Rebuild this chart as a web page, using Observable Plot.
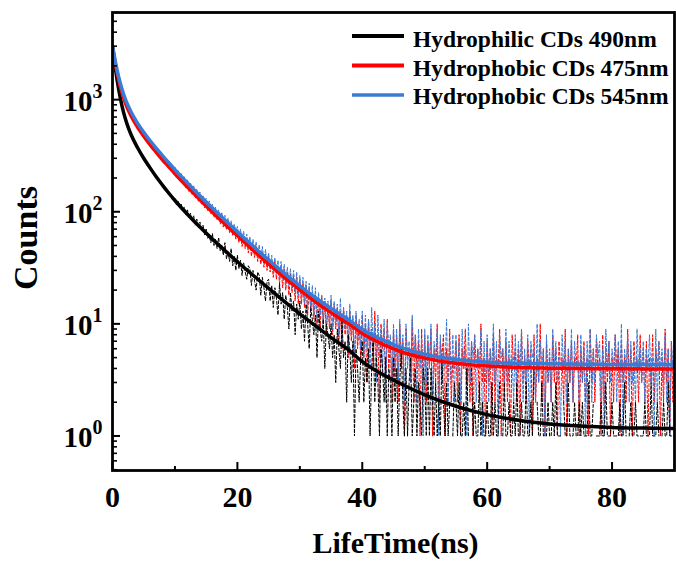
<!DOCTYPE html>
<html>
<head>
<meta charset="utf-8">
<script src="https://cdn.jsdelivr.net/npm/d3@7"></script>
<script src="https://cdn.jsdelivr.net/npm/@observablehq/plot@0.6"></script>
<style>
html, body { margin: 0; padding: 0; background: #fff; }
#chart { position: relative; width: 676px; height: 562px; font-family: "Liberation Serif", "Times New Roman", serif; }
#legend { position: absolute; left: 351px; top: 20px; }
</style>
</head>
<body>
<div id="chart"></div>
<script>
// ---------- data ----------
const channelWidthNs = 0.25; // raw decay histogram bin width (ns)
// raw photon counts, one value per channel, 0 – 90 ns
const rawHydrophilic490 = [
  2960,2350,1820,1510,1205,1050,876,791,680,637,560,531,470,463,418,405,366,360,328,323,
  292,293,266,264,240,241,219,221,198,201,184,183,168,170,154,157,141,146,131,135,
  131,115,124,108,117,101,110,94,104,90,97,83,92,76,86,72,81,68,76,62,
  70,58,61,53,64,50,57,47,59,45,51,41,53,38,44,36,47,33,40,30,
  41,31,37,27,35,29,25,33,31,22,30,24,20,29,27,18,26,21,16,24,
  25,16,22,14,21,17,12,23,15,19,11,18,14,9,19,13,16,8,15,11,
  16,9,13,7,15,10,6,14,11,8,12,5,13,9,7,11,4,10,8,6,
  10,5,8,3,9,6,4,11,5,7,2,8,6,3,7,1,6,4,2,5,
  7,2,5,3,6,1,4,8,2,5,3,1,6,4,2,5,1,4,3,1,
  5,2,4,1,3,6,2,1,4,1,3,5,1,2,4,1,3,2,1,4,
  3,1,4,1,4,2,1,3,1,2,1,5,2,1,3,1,2,0,1,3,
  2,1,3,1,1,2,1,4,1,0,4,1,2,1,1,3,1,2,1,1,
  2,1,1,3,1,2,1,1,3,0,1,3,1,1,2,1,1,2,1,3,
  1,1,2,1,1,3,1,1,2,1,4,0,2,1,1,3,1,1,1,2,
  1,1,2,1,3,1,1,1,0,2,1,1,3,1,1,1,2,1,1,2,
  1,2,1,1,1,3,1,1,2,0,1,1,1,2,1,1,3,1,1,1,
  2,1,1,1,1,2,1,1,3,1,0,1,2,1,1,2,1,1,1,1,
  1,2,1,1,1,3,1,1,1,2,1,0,1,2,1,1,3,1,1,1,
  1
];
const rawHydrophobic475 = [
  3040,2420,2050,1700,1510,1290,1180,1035,970,862,825,745,722,655,645,588,580,531,526,484,
  480,443,441,405,406,373,375,344,347,318,322,295,298,274,278,254,259,236,241,219,
  229,203,213,188,200,177,187,163,175,152,164,143,154,132,144,124,135,117,127,108,
  120,101,114,95,107,89,100,84,95,78,89,73,85,69,80,65,75,61,71,57,
  68,53,64,49,60,47,57,43,55,40,52,39,49,36,46,34,44,32,42,30,
  40,29,37,26,36,25,33,23,32,21,31,20,29,18,28,19,27,16,26,15,
  25,15,23,14,22,12,21,13,19,11,18,10,17,9,18,10,16,8,15,9,
  16,8,15,9,14,7,13,6,14,8,12,5,13,7,11,4,12,6,10,5,
  12,5,10,3,11,6,9,4,13,5,8,2,10,6,9,3,11,4,7,2,
  9,3,8,2,10,4,7,1,9,5,6,3,11,2,8,4,7,1,9,3,
  8,2,7,4,9,1,6,3,10,2,7,5,8,1,6,3,9,2,5,4,
  7,2,8,1,6,4,9,3,5,2,7,1,8,4,6,2,10,3,5,1,
  7,3,6,1,8,2,5,4,9,1,6,3,7,2,5,1,8,4,6,2,
  6,1,9,3,5,2,7,4,6,1,8,2,5,3,10,2,6,1,7,3,
  5,2,8,3,6,1,7,4,5,2,9,1,6,3,7,2,5,4,8,1,
  6,3,7,2,5,1,9,3,6,2,7,4,5,1,8,2,6,3,7,1,
  5,2,8,4,6,1,7,3,5,2,9,3,6,1,7,4,5,2,8,3,
  6,2,7,1,5,3,8,2,6,4,7,1,5,2,9,3,6,1,7,2,
  4
];
const rawHydrophobic545 = [
  2980,2550,2100,1850,1570,1420,1240,1150,1020,965,870,835,760,738,680,662,610,598,552,545,
  525,480,482,440,444,405,410,375,380,345,353,320,328,297,305,276,284,256,264,238,
  250,222,233,205,219,192,205,181,192,168,180,157,170,146,160,136,150,128,140,119,
  132,111,125,104,117,98,110,91,104,86,99,81,93,76,88,72,83,67,78,63,
  74,58,70,55,67,52,63,49,60,45,57,43,54,41,51,38,49,36,46,34,
  43,32,41,30,39,28,37,26,36,25,34,23,32,22,31,21,30,19,29,18,
  27,17,26,15,24,14,23,13,22,12,21,11,19,12,18,10,17,9,16,10,
  18,9,16,10,15,8,17,7,14,9,13,6,15,8,12,5,13,7,11,6,
  13,5,12,6,11,4,14,6,10,3,12,5,9,4,11,2,10,6,8,3,
  10,4,9,3,11,5,8,2,10,4,7,3,12,5,8,2,9,4,7,1,
  9,3,8,4,10,2,7,5,9,1,8,3,6,4,11,2,7,3,8,2,
  8,3,7,2,9,4,6,1,10,3,7,5,8,2,6,4,9,1,7,3,
  8,2,6,4,10,3,7,1,8,5,6,2,9,3,7,4,5,2,8,3,
  7,4,9,2,6,3,8,1,7,5,6,2,10,3,7,4,6,1,8,3,
  6,2,9,4,7,3,5,1,8,4,7,2,6,3,9,2,7,4,5,2,
  8,3,6,1,7,4,9,2,6,3,8,5,7,2,6,1,9,4,7,3,
  6,4,8,2,7,3,10,1,6,4,8,2,7,3,5,2,9,4,6,3,
  7,2,6,4,8,3,5,1,9,2,7,4,6,3,8,2,6,1,7,4,
  5
];
// fitted decay curves
const fitTimesNs = [0,0.5,1,1.5,2,2.5,3,4,5,6,7,8,9,10,12,14,16,18,20,22,25,28,30,32,35,38,40,43,46,50,55,60,65,70,75,80,85,90];
const fitHydrophilic490 = [3000,1837,1225,888,692,569,484,374,300,247,205,173,147,126,95,73,57,45,35.8,28.7,20.7,15.1,12.3,10.1,7.55,5.75,4.6,3.6,2.95,2.33,1.84,1.55,1.38,1.28,1.225,1.19,1.175,1.165];
const fitHydrophobic475 = [3000,2030,1490,1165,955,812,710,568,471,397,339,291,252,218,166,128,99,77.5,61,48.2,34.2,24.7,20.1,16.5,12.6,9.85,8.2,6.7,5.7,4.95,4.45,4.2,4.08,4.02,3.99,3.97,3.96,3.95];
const fitHydrophobic545 = [3000,2121,1587,1253,1033,881,771,618,512,432,369,317,274,237,181,139,107.8,84.2,66.2,52.3,37.1,26.8,21.8,17.9,13.7,10.7,8.9,7.3,6.2,5.35,4.8,4.55,4.45,4.4,4.37,4.35,4.34,4.33];

const seriesNames = ["Hydrophilic CDs 490nm", "Hydrophobic CDs 475nm", "Hydrophobic CDs 545nm"];
const seriesColors = ["#000000", "#ff0000", "#3a7bd5"];
const xTicks = [0, 20, 40, 60, 80];
const xMinorTicks = [10, 30, 50, 70];
const yTicks = [1, 10, 100, 1000];
const xLabel = "LifeTime(ns)";
const yLabel = "Counts";

// ---------- tables ----------
const raws = [rawHydrophilic490, rawHydrophobic475, rawHydrophobic545];
const fits = [fitHydrophilic490, fitHydrophobic475, fitHydrophobic545];
const rawRows = raws.map((arr, s) => arr.map((v, i) => ({t: i * channelWidthNs, v, s})));
const fitRows = fits.map((arr, s) => arr.map((v, i) => ({t: fitTimesNs[i], v, s})));
const rawOrder = [1, 2, 0]; // red, blue, then black on top

const yDomain = [0.492, 5990];
const yMinor = [];
for (const d of [0.1, 1, 10, 100, 1000]) for (let m = 2; m <= 9; m++) {
  const v = +(m * d).toPrecision(3);
  if (v >= yDomain[0] && v <= yDomain[1]) yMinor.push(v);
}

const font = "bold";
const plot = Plot.plot({
  width: 676, height: 562,
  marginLeft: 112, marginRight: 2, marginTop: 12, marginBottom: 92,
  style: {fontFamily: '"Liberation Serif", "Times New Roman", serif', background: "white", color: "black", overflow: "visible"},
  x: {domain: [0, 90]},
  y: {type: "log", domain: yDomain},
  marks: [
    ...rawOrder.map(s => Plot.line(rawRows[s], {
      x: "t", y: d => (d.v > 0 ? d.v : NaN),
      stroke: seriesColors[s], strokeWidth: 1, strokeDasharray: "3,2", clip: true
    })),
    ...fitRows.map((rows, s) => Plot.line(rows, {
      x: "t", y: "v", stroke: seriesColors[s], strokeWidth: 3.5, curve: "monotone-x", clip: true
    })),
    Plot.frame({stroke: "black", strokeWidth: 2.8}),
    // x ticks (inward)
    Plot.axisX({ticks: xTicks, tickSize: 8, dy: -8, strokeWidth: 2, fill: "none", label: null}),
    Plot.axisX({ticks: xMinorTicks, tickSize: 4, dy: -4, strokeWidth: 2, fill: "none", label: null}),
    Plot.axisX({ticks: xTicks, tickSize: 0, tickPadding: 15, fontSize: 30, fontWeight: font, label: null, tickFormat: d => String(d)}),
    // y ticks (inward)
    Plot.axisY({ticks: yTicks, tickSize: 8, dx: 8, strokeWidth: 2, fill: "none", label: null}),
    Plot.axisY({ticks: yMinor, tickSize: 5, dx: 5, strokeWidth: 1.6, fill: "none", label: null}),
    Plot.axisY({ticks: yTicks, tickSize: 0, tickPadding: 10, dy: 2, fontSize: 29, fontWeight: font, label: null,
      tickFormat: d => "10^" + Math.round(Math.log10(d))}),
    // axis titles
    Plot.text([yLabel], {text: d => d, frameAnchor: "left", textAnchor: "middle", lineAnchor: "middle", rotate: -90, dx: -86, dy: -3.5, fontSize: 34, fontWeight: font}),
    Plot.text([xLabel], {text: d => d, frameAnchor: "bottom", textAnchor: "middle", lineAnchor: "middle", dx: 2, dy: 73, fontSize: 30, fontWeight: font})
  ]
});

// superscript exponents on y tick labels
plot.querySelectorAll('g[aria-label="y-axis tick label"] text').forEach(t => {
  const parts = t.textContent.split("^");
  if (parts.length !== 2) return;
  t.textContent = parts[0];
  const sup = document.createElementNS("http://www.w3.org/2000/svg", "tspan");
  sup.setAttribute("dy", "-13");
  sup.setAttribute("font-size", "20");
  sup.textContent = parts[1];
  t.appendChild(sup);
});

const chart = document.getElementById("chart");
chart.appendChild(plot);

// legend (inside the frame, top right)
const legend = d3.select(chart).append("svg")
  .attr("id", "legend").attr("width", 325).attr("height", 95)
  .style("font-family", '"Liberation Serif", "Times New Roman", serif');
const rowLineY = [16, 45.5, 75];
const rowTextY = [27, 55.5, 84];
const lineWidths = [4, 4, 3.3];
seriesNames.forEach((name, i) => {
  legend.append("line").attr("x1", 1).attr("x2", 53).attr("y1", rowLineY[i]).attr("y2", rowLineY[i])
    .attr("stroke", seriesColors[i]).attr("stroke-width", lineWidths[i]);
  legend.append("text").attr("x", 62).attr("y", rowTextY[i])
    .attr("font-size", 23.5).attr("font-weight", "bold").attr("fill", "black").text(name);
});
</script>
</body>
</html>
